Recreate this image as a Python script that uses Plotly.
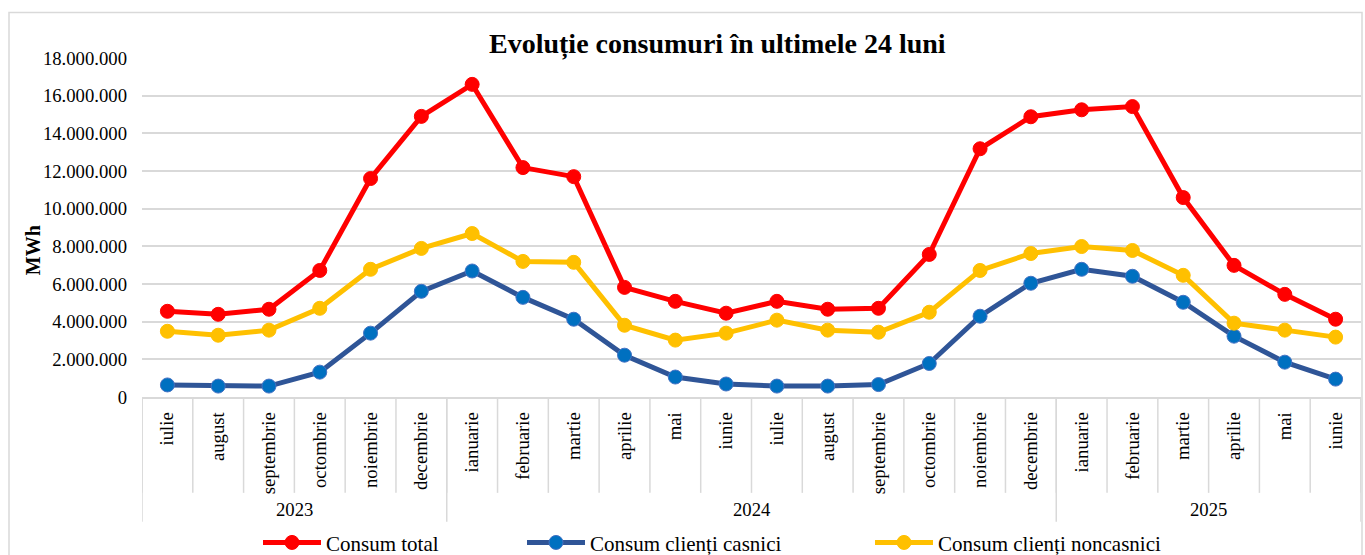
import plotly.graph_objects as go

months = ["iulie", "august", "septembrie", "octombrie", "noiembrie", "decembrie",
          "ianuarie", "februarie", "martie", "aprilie", "mai", "iunie",
          "iulie", "august", "septembrie", "octombrie", "noiembrie", "decembrie",
          "ianuarie", "februarie", "martie", "aprilie", "mai", "iunie"]
years = ["2023"] * 6 + ["2024"] * 12 + ["2025"] * 6

consum_total = [4550000, 4390000, 4660000, 6720000, 11600000, 14900000,
                16600000, 12180000, 11700000, 5820000, 5080000, 4450000,
                5080000, 4660000, 4710000, 7570000, 13180000, 14880000,
                15250000, 15420000, 10590000, 6990000, 5450000, 4130000]
consum_casnici = [640000, 580000, 580000, 1320000, 3390000, 5610000,
                  6690000, 5290000, 4130000, 2220000, 1060000, 690000,
                  580000, 580000, 660000, 1780000, 4290000, 6040000,
                  6780000, 6410000, 5030000, 3230000, 1850000, 950000]
consum_noncasnici = [3490000, 3280000, 3550000, 4710000, 6780000, 7890000,
                     8680000, 7200000, 7150000, 3810000, 3020000, 3390000,
                     4080000, 3550000, 3440000, 4500000, 6720000, 7620000,
                     7990000, 7780000, 6460000, 3920000, 3550000, 3180000]
y_ticks = [0, 2000000, 4000000, 6000000, 8000000, 10000000, 12000000, 14000000, 16000000, 18000000]

cats = [f"{m} {y}" for m, y in zip(months, years)]
FONT = "Liberation Serif, Times New Roman, serif"

fig = go.Figure()
series = [
    ("Consum total", consum_total, "#FF0000", "#FF0000", "#FF0000", "legend"),
    ("Consum clienți casnici", consum_casnici, "#2F5597", "#0070C0", "#4472C4", "legend2"),
    ("Consum clienți noncasnici", consum_noncasnici, "#FFC000", "#FFC000", "#FFC000", "legend3"),
]
for name, vals, lc, mc, mlc, lg in series:
    fig.add_trace(go.Scatter(
        x=cats, y=vals, name=name, mode="lines+markers",
        line=dict(color=lc, width=5),
        marker=dict(size=14, color=mc, line=dict(color=mlc, width=1)),
        legend=lg, cliponaxis=False,
    ))

# plot area geometry in px (for paper conversions)
L, R, T, B = 142, 1361, 57.5, 397
W, H = R - L, B - T
def py(pix):
    return (B - pix) / H
def px(pix):
    return (pix - L) / W

shapes = []
# month dividers
for i in range(len(cats) + 1):
    shapes.append(dict(type="line", xref="x", yref="paper", x0=i - 0.5, x1=i - 0.5,
                       y0=0, y1=py(493), line=dict(color="#D9D9D9", width=1.5)))
# year dividers
bounds = [0]
for i in range(1, len(years)):
    if years[i] != years[i - 1]:
        bounds.append(i)
bounds.append(len(years))
for b in bounds:
    shapes.append(dict(type="line", xref="x", yref="paper", x0=b - 0.5, x1=b - 0.5,
                       y0=0, y1=py(522), line=dict(color="#D9D9D9", width=1.5)))
# outer chart border
shapes.append(dict(type="rect", xref="paper", yref="paper", x0=px(9), x1=px(1362),
                   y0=py(600), y1=py(12), line=dict(color="#D9D9D9", width=1.5),
                   layer="below"))

annotations = []
for j in range(len(bounds) - 1):
    a, b = bounds[j], bounds[j + 1]
    annotations.append(dict(x=(a + b - 1) / 2, xref="x", y=py(510), yref="paper",
                            text=years[a], showarrow=False, yanchor="middle",
                            font=dict(family=FONT, size=18.7, color="black")))
annotations.append(dict(x=px(717), xref="paper", y=py(43), yref="paper",
                        text="<b>Evoluție consumuri în ultimele 24 luni</b>", showarrow=False,
                        xanchor="center", yanchor="middle",
                        font=dict(family=FONT, size=28, color="black")))
annotations.append(dict(x=px(33), xref="paper", y=py(250), yref="paper",
                        text="<b>MWh</b>", showarrow=False, textangle=-90,
                        xanchor="center", yanchor="middle",
                        font=dict(family=FONT, size=20, color="black")))

leg_common = dict(orientation="h", yanchor="middle", xanchor="left", itemwidth=58,
                  font=dict(family=FONT, size=21, color="black"),
                  bgcolor="rgba(0,0,0,0)", y=py(543))

fig.update_layout(
    width=1365, height=555,
    margin=dict(l=L, r=1365 - R, t=T, b=555 - B, autoexpand=False),
    paper_bgcolor="white", plot_bgcolor="white",
    separators=",.",
    font=dict(family=FONT, size=18.7, color="black"),
    shapes=shapes, annotations=annotations,
    xaxis=dict(type="category", tickvals=cats, ticktext=months, tickangle=-90,
               showgrid=False, showline=True, linecolor="#D9D9D9", linewidth=1.5,
               ticks="", ticklabelstandoff=6, automargin=False,
               tickfont=dict(family=FONT, size=18.7, color="black"),
               range=[-0.5, len(cats) - 0.5]),
    yaxis=dict(range=[0, 18000000], tickvals=y_ticks, tickformat=",d",
               showgrid=True, gridcolor="#D9D9D9", gridwidth=1.5, zeroline=False,
               showline=False, ticklabelstandoff=14, automargin=False,
               tickfont=dict(family=FONT, size=18.7, color="black")),
    legend=dict(x=px(258), **leg_common),
    legend2=dict(x=px(522), **leg_common),
    legend3=dict(x=px(870), **leg_common),
    showlegend=True,
)

fig.write_html("out.html", config={"displayModeBar": False},
               post_script="document.body.style.margin='0';document.body.style.overflow='hidden';")
